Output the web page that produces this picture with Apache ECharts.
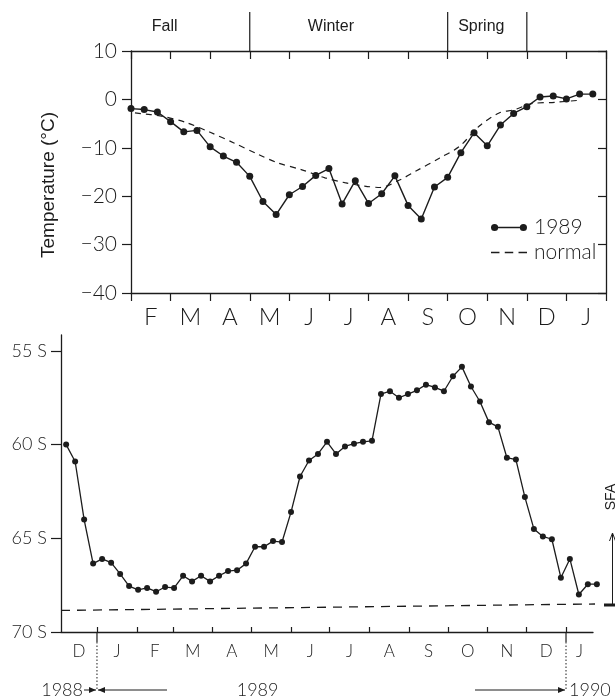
<!DOCTYPE html>
<html>
<head>
<meta charset="utf-8">
<script src="https://cdn.jsdelivr.net/npm/echarts@6/dist/echarts.min.js"></script>
<style>
  html, body { margin: 0; padding: 0; background: #fff; }
  #chart { width: 615px; height: 698px; }
</style>
</head>
<body>
<div id="chart"></div>
<script>
// top panel: air temperature, x = months since 1 Feb 1989
const tempMonthLabels = ['F', 'M', 'A', 'M', 'J', 'J', 'A', 'S', 'O', 'N', 'D', 'J'];
// 1989 values every third of a month (10-day means)
const temp1989 = [-1.9, -2.1, -2.6, -4.6, -6.7, -6.4, -9.8, -11.7, -13.0, -15.9, -21.1, -23.8,
  -19.7, -18.0, -15.7, -14.3, -21.6, -16.8, -21.5, -19.5, -15.8, -21.9, -24.7, -18.1,
  -16.1, -11.0, -6.9, -9.6, -5.3, -2.9, -1.5, 0.5, 0.7, 0.1, 1.1, 1.1];
const normalMonth = [0.1, 0.8, 1.4, 2.0, 2.6, 3.2, 3.7, 4.3, 4.9, 5.4, 5.9, 6.3, 6.8, 7.2, 7.8, 8.3, 8.8, 9.3, 9.7, 10.1, 10.7, 11.3];
const normalTemp = [-2.8, -3.5, -4.8, -6.8, -9.0, -11.3, -13.1, -14.5, -16.2, -17.2, -17.9, -18.2, -16.6, -14.8, -12.1, -9.7, -5.5, -2.8, -2.1, -0.9, -0.6, -0.2];
const seasonNames = ['Fall', 'Winter', 'Spring'];
const seasonBreaks = [3, 8, 10];

// bottom panel: latitude, x = days since 1 Jan 1989, weekly values
const latMonthLabels = ['D', 'J', 'F', 'M', 'A', 'M', 'J', 'J', 'A', 'S', 'O', 'N', 'D', 'J'];
const monthStartDays = [0, 31, 59, 90, 120, 151, 181, 212, 243, 273, 304, 334, 365];
const latTicks = [55, 60, 65, 70];
const latFirstDay = -24;
const lat1989 = [60.0, 60.9, 64.0, 66.35, 66.1, 66.3, 66.9, 67.55, 67.75, 67.65, 67.85, 67.6,
  67.65, 67.0, 67.3, 67.0, 67.3, 67.0, 66.75, 66.7, 66.35, 65.45, 65.45, 65.15,
  65.2, 63.6, 61.7, 60.85, 60.5, 59.85, 60.5, 60.1, 59.95, 59.85, 59.8, 57.3,
  57.15, 57.5, 57.3, 57.1, 56.8, 56.95, 57.15, 56.35, 55.85, 56.9, 57.7, 58.8,
  59.05, 60.7, 60.8, 62.8, 64.5, 64.9, 65.05, 67.1, 66.1, 68.0, 67.45, 67.45];
const edgeDays = [-28, 393];
const edgeLat = [68.85, 68.5];

const axisMin = -28, axisMax = 386;
const labelDays = latMonthLabels.map((m, i) => {
  const a = i === 0 ? axisMin : monthStartDays[i - 1];
  const b = i < monthStartDays.length ? monthStartDays[i] : axisMax;
  return (a + b) / 2;
});

const INK = '#1c1c1c';
const THIN = 'Lato';
const minus = v => (v < 0 ? '\u2212' + (-v) : String(v));

const lineAxis = { show: true, onZero: false, lineStyle: { color: INK, width: 1.3 } };

const option = {
  backgroundColor: '#fff',
  animation: false,
  grid: [
    { left: 131, top: 51, width: 475, height: 242 },
    { left: 61, top: 335, width: 532, height: 297 }
  ],
  legend: {
    data: [
      { name: '1989', icon: 'path://M0,5a4,4 0 1,1 8,0a4,4 0 1,1 -8,0Z M32,5a4,4 0 1,1 8,0a4,4 0 1,1 -8,0Z M7.5,4.3h25v1.4h-25Z' },
      { name: 'normal', icon: 'path://M2,4.3h8v1.4h-8Z M15,4.3h8v1.4h-8Z M28,4.3h8v1.4h-8Z' }
    ],
    orient: 'vertical',
    left: 486,
    top: 212,
    itemWidth: 36,
    itemHeight: 9,
    itemGap: 4,
    selectedMode: false,
    textStyle: { fontFamily: THIN, fontWeight: 300, fontSize: 21, color: INK, padding: [0, 0, 0, 2] }
  },
  xAxis: [
    {
      type: 'value', gridIndex: 0, min: 0, max: 12, interval: 1, position: 'bottom',
      axisLine: lineAxis,
      axisTick: { show: true, inside: false, length: 8, lineStyle: { color: INK, width: 1.2 } },
      axisLabel: {
        customValues: tempMonthLabels.map((m, i) => i + 0.5),
        formatter: v => tempMonthLabels[Math.floor(v)],
        margin: 12, fontFamily: THIN, fontWeight: 300, fontSize: 24, color: INK
      },
      splitLine: { show: false }
    },
    {
      type: 'value', gridIndex: 0, min: 0, max: 12, interval: 1, position: 'top',
      axisLine: lineAxis,
      axisTick: { show: true, inside: true, length: 8, lineStyle: { color: INK, width: 1.2 } },
      axisLabel: { show: false },
      splitLine: { show: false }
    },
    {
      type: 'value', gridIndex: 1, min: axisMin, max: axisMax, position: 'bottom',
      axisLine: lineAxis,
      axisTick: { show: true, inside: true, length: 5, customValues: monthStartDays, lineStyle: { color: INK, width: 1.2 } },
      axisLabel: {
        customValues: labelDays,
        formatter: v => latMonthLabels[labelDays.indexOf(v)],
        margin: 11, fontFamily: THIN, fontWeight: 300, fontSize: 17, color: INK
      },
      splitLine: { show: false }
    }
  ],
  yAxis: [
    {
      type: 'value', gridIndex: 0, min: -40, max: 10, interval: 10, position: 'left',
      axisLine: lineAxis,
      axisTick: { show: true, inside: false, length: 9, lineStyle: { color: INK, width: 1.2 } },
      axisLabel: { formatter: minus, margin: 14, fontFamily: THIN, fontWeight: 300, fontSize: 21, color: INK },
      splitLine: { show: false }
    },
    {
      type: 'value', gridIndex: 0, min: -40, max: 10, interval: 10, position: 'right',
      axisLine: lineAxis,
      axisTick: { show: true, inside: true, length: 8, lineStyle: { color: INK, width: 1.2 } },
      axisLabel: { show: false },
      splitLine: { show: false }
    },
    {
      type: 'value', gridIndex: 1, min: 54.15, max: 70, inverse: true, position: 'left',
      axisLine: lineAxis,
      axisTick: { show: true, inside: false, length: 10, customValues: latTicks, lineStyle: { color: INK, width: 1.2 } },
      axisLabel: {
        customValues: latTicks, formatter: v => v + ' S',
        margin: 14, fontFamily: THIN, fontWeight: 300, fontSize: 18, color: INK
      },
      splitLine: { show: false }
    }
  ],
  series: [
    {
      name: '1989', type: 'line', xAxisIndex: 0, yAxisIndex: 0,
      data: temp1989.map((t, i) => [i / 3, t]),
      symbol: 'circle', symbolSize: 7,
      lineStyle: { color: INK, width: 1.4 },
      itemStyle: { color: INK }
    },
    {
      name: 'normal', type: 'line', xAxisIndex: 0, yAxisIndex: 0,
      data: normalMonth.map((m, i) => [m, normalTemp[i]]),
      symbol: 'none', smooth: 0.3,
      lineStyle: { color: INK, width: 1.2, type: [6, 5] },
      itemStyle: { color: INK }
    },
    {
      name: 'latitude', type: 'line', xAxisIndex: 2, yAxisIndex: 2,
      data: lat1989.map((v, i) => [latFirstDay + 7 * i, v]),
      symbol: 'circle', symbolSize: 6,
      lineStyle: { color: INK, width: 1.3 },
      itemStyle: { color: INK },
      clip: false
    },
    {
      name: 'edge', type: 'line', xAxisIndex: 2, yAxisIndex: 2,
      data: edgeDays.map((d, i) => [d, edgeLat[i]]),
      symbol: 'none', clip: false,
      lineStyle: { color: INK, width: 1.3, type: [9, 7] }
    }
  ]
};

const chart = echarts.init(document.getElementById('chart'));
chart.setOption(option);

// annotations placed from the axes
const px = (axis, v) => chart.convertToPixel({ xAxisIndex: axis }, v);
const stroke = { stroke: INK, lineWidth: 1.2 };
const g = [];

seasonBreaks.forEach(m => {
  const x = px(1, m);
  g.push({ type: 'line', shape: { x1: x, y1: 12, x2: x, y2: 51 }, style: stroke });
});
[0.85, 5.05, 8.85].forEach((m, i) => {
  g.push({ type: 'text', x: px(1, m), y: 27, style: {
    text: seasonNames[i], font: '16px "Liberation Sans"', fill: INK, align: 'center', verticalAlign: 'middle' } });
});
g.push({ type: 'text', x: 49, y: 185, rotation: Math.PI / 2, style: {
  text: 'Temperature (\u00B0C)', font: '19px "Liberation Sans"', fill: INK, align: 'center', verticalAlign: 'middle' } });

function arrow(x1, x2, y) {
  const d = x2 > x1 ? 1 : -1;
  g.push({ type: 'line', shape: { x1: x1, y1: y, x2: x2, y2: y }, style: { stroke: INK, lineWidth: 1 } });
  g.push({ type: 'polygon', shape: { points: [[x2, y], [x2 - 7 * d, y - 3], [x2 - 7 * d, y + 3]] }, style: { fill: INK } });
}
const y0 = px(2, 0), y1 = px(2, 365);
[y0, y1].forEach(x => {
  g.push({ type: 'line', shape: { x1: x, y1: 632, x2: x, y2: 642 }, style: stroke });
  g.push({ type: 'line', shape: { x1: x, y1: 642, x2: x, y2: 690 }, style: { stroke: INK, lineWidth: 1, lineDash: [1.5, 2] } });
});
arrow(84, y0 - 1, 690);
arrow(167, y0 + 1, 690);
arrow(475, y1 - 1, 690);
const yearFont = '300 18px Lato';
g.push({ type: 'text', x: 83, y: 690, style: { text: '1988', font: yearFont, fill: INK, align: 'right', verticalAlign: 'middle' } });
g.push({ type: 'text', x: px(2, 125), y: 690, style: { text: '1989', font: yearFont, fill: INK, align: 'center', verticalAlign: 'middle' } });
g.push({ type: 'text', x: y1 + 3, y: 690, style: { text: '1990', font: yearFont, fill: INK, align: 'left', verticalAlign: 'middle' } });

// arrow at the right edge
g.push({ type: 'rect', shape: { x: 604, y: 603.5, width: 11, height: 3 }, style: { fill: INK } });
g.push({ type: 'line', shape: { x1: 612.5, y1: 604, x2: 612.5, y2: 534 }, style: { stroke: INK, lineWidth: 1 } });
g.push({ type: 'polyline', shape: { points: [[609.5, 541], [612.5, 533], [615.5, 541]] }, style: { stroke: INK, lineWidth: 1, fill: null } });
g.push({ type: 'text', x: 611, y: 497, rotation: Math.PI / 2, style: {
  text: 'SFA', font: '14px "Liberation Sans"', fill: INK, align: 'center', verticalAlign: 'middle' } });

chart.setOption({ graphic: g });
</script>
</body>
</html>
